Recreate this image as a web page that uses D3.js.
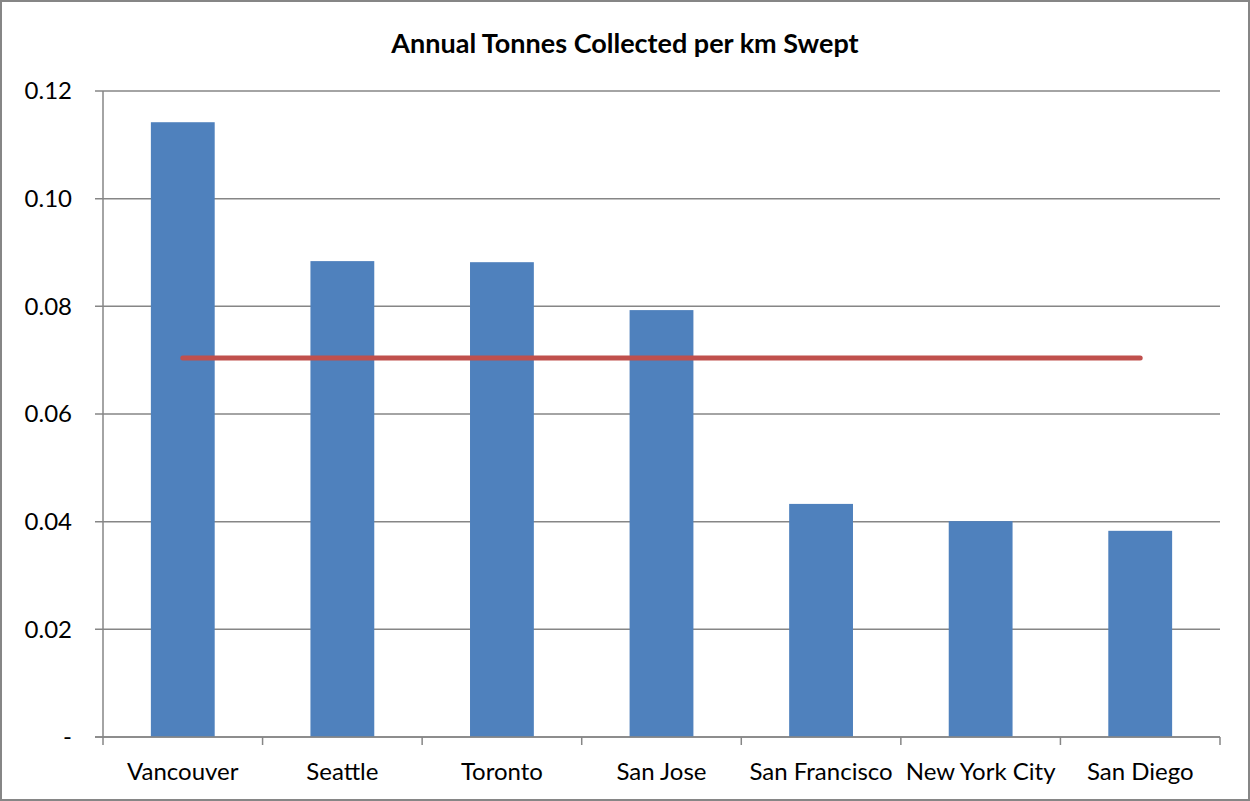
<!DOCTYPE html>
<html><head><meta charset="utf-8">
<script src="https://cdn.jsdelivr.net/npm/d3@7"></script>
<style>body{margin:0;background:#fff}svg{display:block}text{font-family:Lato,"Open Sans",sans-serif}</style>
</head><body>
<script>
const categories = ["Vancouver","Seattle","Toronto","San Jose","San Francisco","New York City","San Diego"];
const values = [0.1142,0.0884,0.0882,0.0793,0.0433,0.0401,0.0383];
const average = [0.0704,0.0704,0.0704,0.0704,0.0704,0.0704,0.0704];
const yTicks = [0,0.02,0.04,0.06,0.08,0.10,0.12];
const title = "Annual Tonnes Collected per km Swept";

(function(){
const W=1250,H=801;
const svg=d3.select("body").append("svg").attr("width",W).attr("height",H);
svg.append("rect").attr("x",1).attr("y",1).attr("width",W-2).attr("height",H-2).attr("fill","#fff").attr("stroke","#868686").attr("stroke-width",2);
const pL=103,pR=1220,pT=91,pB=737;
const x=d3.scaleBand().domain(categories).range([pL,pR]).paddingInner(0.6).paddingOuter(0.3);
const xb=d3.scaleBand().domain(categories).range([pL,pR]);
const y=d3.scaleLinear().domain([0,0.12]).range([pB,pT]);

svg.append("g").selectAll("line").data(yTicks).join("line")
 .attr("x1",pL-8).attr("x2",pR).attr("y1",d=>y(d)).attr("y2",d=>y(d))
 .attr("stroke","#868686").attr("stroke-width",1.5);
svg.append("g").selectAll("text").data(yTicks).join("text")
 .attr("x",72).attr("y",d=>y(d)).attr("dy","0.35em").attr("text-anchor","end")
 .attr("font-size",24).attr("fill","#000").text(d=>d===0?"-":d3.format(".2f")(d));
svg.append("g").selectAll("rect").data(values).join("rect")
 .attr("x",(d,i)=>x(categories[i])).attr("width",x.bandwidth())
 .attr("y",d=>y(d)).attr("height",d=>pB-y(d)).attr("fill","#4F81BD");
svg.append("line").attr("x1",pL).attr("x2",pL).attr("y1",pT).attr("y2",pB).attr("stroke","#868686").attr("stroke-width",1.5);
svg.append("line").attr("x1",pL-8).attr("x2",pR).attr("y1",pB).attr("y2",pB).attr("stroke","#868686").attr("stroke-width",1.5);
const tickPos=categories.map(c=>xb(c)).concat([pR]);
svg.append("g").selectAll("line").data(tickPos).join("line")
 .attr("x1",d=>d).attr("x2",d=>d).attr("y1",pB).attr("y2",pB+8).attr("stroke","#868686").attr("stroke-width",1.5);
svg.append("g").selectAll("text").data(categories).join("text")
 .attr("x",d=>xb(d)+xb.bandwidth()/2).attr("y",780).attr("text-anchor","middle")
 .attr("font-size",24).attr("fill","#000").text(d=>d);
const line=d3.line().x((d,i)=>xb(categories[i])+xb.bandwidth()/2).y(d=>y(d));
svg.append("path").datum(average).attr("d",line).attr("fill","none").attr("stroke","#C0504D").attr("stroke-width",5).attr("stroke-linecap","round");
svg.append("text").attr("x",625).attr("y",53).attr("text-anchor","middle").attr("font-size",27).attr("font-weight","bold").attr("fill","#000").text(title);
})();
</script>
</body></html>
